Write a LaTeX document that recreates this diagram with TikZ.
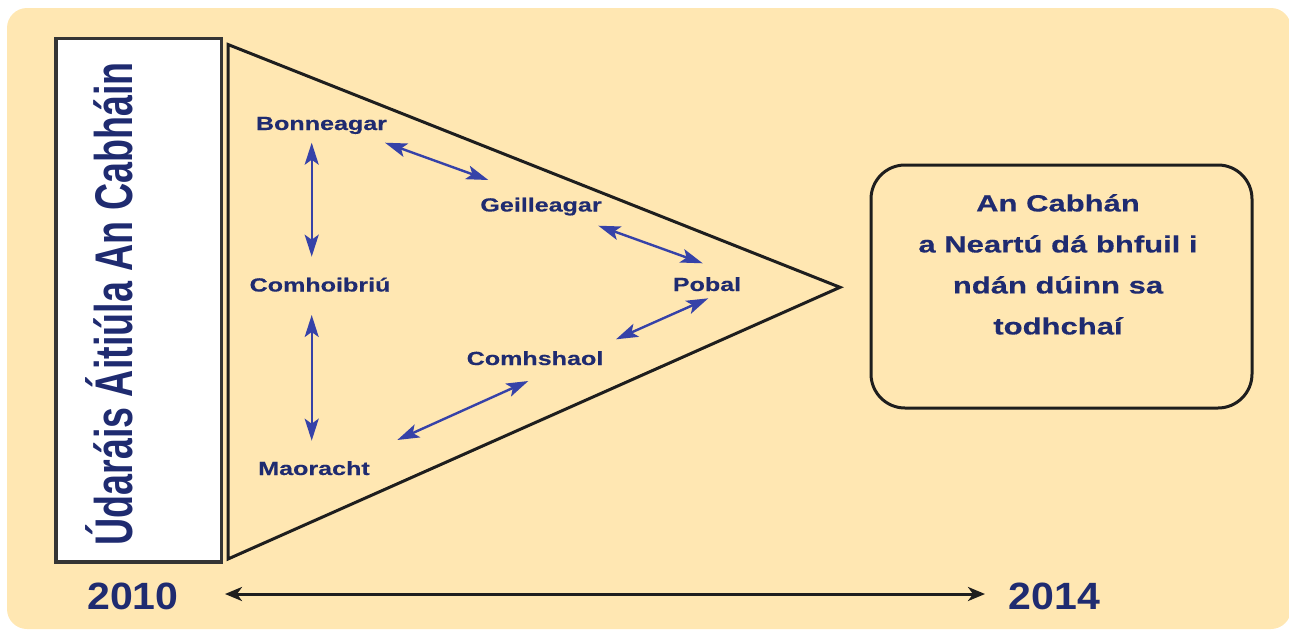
\documentclass[tikz,border=0pt]{standalone}
\usepackage{fontspec}
\setmainfont{Liberation Sans}
\newfontfamily\widefont[FakeStretch=1.32,FakeBold=0.4]{Liberation Sans}
\newfontfamily\narrowfont[FakeStretch=0.71]{Liberation Sans}
\newfontfamily\yearfont[FakeStretch=1.08]{Liberation Sans}
\usetikzlibrary{arrows.meta}
\definecolor{bgyellow}{RGB}{255,231,178}
\definecolor{navytext}{RGB}{31,43,112}
\definecolor{arrowblue}{RGB}{54,66,168}
\definecolor{darkline}{RGB}{30,30,30}
\tikzset{
  lbl/.style={font=\widefont\bfseries\fontsize{19}{22}\selectfont, text=navytext, inner sep=0pt, anchor=base},
  boxtext/.style={font=\widefont\bfseries\fontsize{23.5}{41}\selectfont, text=navytext, align=center, inner sep=0pt},
  year/.style={font=\yearfont\bfseries\fontsize{38}{40}\selectfont, text=navytext, inner sep=0pt, anchor=base},
  link/.style={draw=arrowblue, line width=2.4pt, {Stealth[length=22pt,width=14pt,inset=5pt]}-{Stealth[length=22pt,width=14pt,inset=5pt]}},
  timeline/.style={draw=darkline, line width=3pt, {Stealth[length=17pt,width=14pt,inset=5pt]}-{Stealth[length=17pt,width=14pt,inset=5pt]}},
}
\begin{document}
\begin{tikzpicture}[x=1pt,y=-1pt]
\useasboundingbox (0,0) rectangle (1289,632);
\begin{scope}
\clip (0,0) rectangle (1289,632);
\fill[bgyellow, rounded corners=20pt] (7,8) rectangle (1291,629);
\end{scope}
% left title box
\draw[draw=darkline!90, line width=3.5pt, fill=white] (56,38.5) rectangle (221.5,562);
\node[font=\narrowfont\bfseries\fontsize{53}{55}\selectfont, text=navytext, rotate=90, anchor=base, inner sep=0pt] (title) at (132,304) {Údaráis Áitiúla An Cabháin};
% triangle
\draw[draw=darkline, line width=3pt, line join=miter] (228,44.5) -- (840,287.3) -- (228,559) -- cycle;
% labels
\node[lbl] (bon) at (321.5,130) {Bonneagar};
\node[lbl] (gei) at (541,211.5) {Geilleagar};
\node[lbl] (com) at (320,291.5) {Comhoibriú};
\node[lbl] (pob) at (707,291) {Pobal};
\node[lbl] (csh) at (535,365) {Comhshaol};
\node[lbl] (mao) at (314,475) {Maoracht};
% arrows
\draw[link] ([shift={(63.5,12.7)}]bon.base) -- ([shift={(-52.7,-31.5)}]gei.base);
\draw[link] ([shift={(-9.8,12.7)}]bon.base) -- ([shift={(-8.3,-34.8)}]com.base);
\draw[link] ([shift={(57.3,14.2)}]gei.base) -- ([shift={(-4.3,-27.7)}]pob.base);
\draw[link] ([shift={(1.3,7.3)}]pob.base) -- ([shift={(81,-25.7)}]csh.base);
\draw[link] ([shift={(-8.3,23.5)}]com.base) -- ([shift={(-2.3,-34.3)}]mao.base);
\draw[link] ([shift={(-6.7,16)}]csh.base) -- ([shift={(83.3,-35)}]mao.base);
% right box
\draw[draw=darkline, line width=3pt, rounded corners=34pt] (871,165) rectangle (1252,408);
\node[boxtext, anchor=north] (goal) at (1058,194) {An Cabhán\\a Neartú dá bhfuil i\\ndán dúinn sa\\todhchaí};
% timeline
\node[year] (y2010) at (133,609) {2010};
\node[year] (y2014) at (1054.5,609) {2014};
\draw[timeline] ([shift={(92,-15)}]y2010.base) -- ([shift={(-69.5,-15)}]y2014.base);
\end{tikzpicture}
\end{document}
